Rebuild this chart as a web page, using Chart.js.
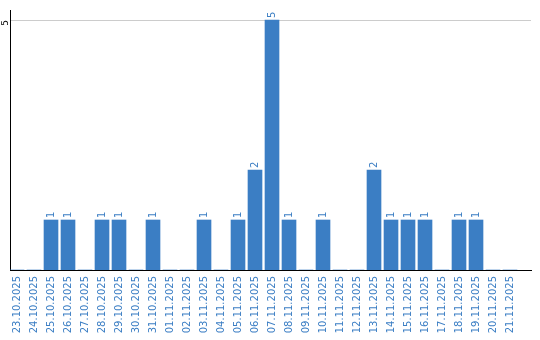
<!DOCTYPE html>
<html><head><meta charset="utf-8">
<script src="https://cdn.jsdelivr.net/npm/chart.js@4"></script>
<style>html,body{margin:0;padding:0;background:#fff}#wrap{width:540px;height:340px}</style>
</head><body><div id="wrap"><canvas id="c"></canvas></div>
<script>
const categories = ['23.10.2025','24.10.2025','25.10.2025','26.10.2025','27.10.2025','28.10.2025','29.10.2025','30.10.2025','31.10.2025','01.11.2025','02.11.2025','03.11.2025','04.11.2025','05.11.2025','06.11.2025','07.11.2025','08.11.2025','09.11.2025','10.11.2025','11.11.2025','12.11.2025','13.11.2025','14.11.2025','15.11.2025','16.11.2025','17.11.2025','18.11.2025','19.11.2025','20.11.2025','21.11.2025'];
const counts = [0,0,1,1,0,1,1,0,1,0,0,1,0,1,2,5,1,0,1,0,0,2,1,1,1,0,1,1,0,0];
const yTicks = [5];
const BLUE = '#3b7ec4';
const valueLabels = {
  id:'valueLabels',
  afterDatasetsDraw(chart){
    const ctx = chart.ctx; const meta = chart.getDatasetMeta(0);
    ctx.save(); ctx.fillStyle=BLUE; ctx.font='10px "DejaVu Sans"'; ctx.textAlign='left'; ctx.textBaseline='middle';
    meta.data.forEach((bar,i)=>{ const v = counts[i]; if(!v) return; ctx.save(); ctx.translate(bar.x, bar.y-2); ctx.rotate(-Math.PI/2); ctx.fillText(String(v),0,0); ctx.restore(); });
    ctx.restore();
  }
};
new Chart(document.getElementById('c'), {
  type:'bar',
  data:{ datasets:[{ data: counts.map((v,i)=>({x:i,y:v})), backgroundColor:BLUE, barThickness:14, borderWidth:0 }]},
  options:{ responsive:true, maintainAspectRatio:false, animation:false,
    layout:{padding:{top:10,right:9,left:0,bottom:0}},
    plugins:{legend:{display:false}, tooltip:{enabled:false}},
    scales:{
      x:{ type:'linear', offset:false, min:-0.4118, max:30.235,
        afterBuildTicks: s=>{ s.ticks = categories.map((_,i)=>({value:i})); },
        ticks:{ callback:(v)=>categories[v], color:BLUE, font:{family:'DejaVu Sans', size:10}, minRotation:90, maxRotation:90, padding:6, autoSkip:false },
        grid:{display:false, drawTicks:false, offset:false}, border:{display:true,color:'#000',width:1},
        afterFit: s=>{ s.height=70; } },
      y:{ min:0, max:5.2,
        afterBuildTicks: s=>{ s.ticks = yTicks.map(v=>({value:v})); },
        ticks:{color:'#000', font:{family:'DejaVu Sans', size:9}, minRotation:90, maxRotation:90, padding:4},
        grid:{color:'#ccc', drawTicks:false}, border:{color:'#000', width:1},
        afterFit: s=>{ s.width=10; } }
    }
  },
  plugins:[valueLabels]
});
</script></body></html>
